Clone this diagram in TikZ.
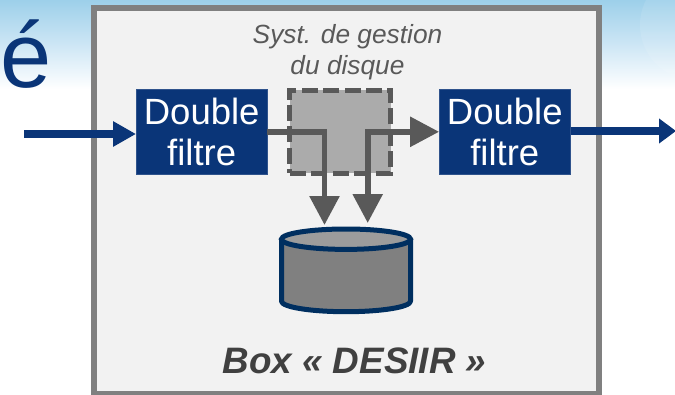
\documentclass[tikz,border=0pt]{standalone}
\usepackage{fontspec}
\setmainfont{Liberation Sans}
\usetikzlibrary{arrows.meta}
\definecolor{navyfill}{HTML}{0A3578}
\definecolor{diskline}{HTML}{002F60}
\definecolor{darkgris}{HTML}{595959}
\begin{document}
\begin{tikzpicture}[x=1pt,y=-1pt,
filterbox/.style={rectangle,draw=navyfill!85!white,fill=navyfill,text=white,align=center,inner sep=0pt,minimum width=131pt,minimum height=85pt,font=\fontsize{36.5}{43.5}\selectfont},
graypath/.style={line width=5.7pt,color=darkgris,-{Triangle[length=29pt,width=29pt]}},
bluepath/.style={line width=8pt,color=navyfill,-{Triangle[length=23pt,width=24pt]}}]
\useasboundingbox (0,0) rectangle (675,394);
\fill[white] (0,0) rectangle (675,394);
\shade[top color={rgb,255:red,157;green,208;blue,234},bottom color=white,middle color={rgb,255:red,205;green,230;blue,245}] (0,0) rectangle (675,89);
\fill[white,opacity=.1] (695,25) circle (55);
\draw[line width=5.5pt,color=black!50,fill=black!5] (93.8,7.9) rectangle (599,393.7);
\node[font=\fontsize{92}{92}\selectfont,text=navyfill] (title) at (26,54) {é};
\node[align=center,text=darkgris,font=\fontsize{26.3}{31}\selectfont\itshape] (gestionlabel) at (347.5,52) {Syst. de gestion\\du disque};
\node[rectangle,draw=darkgris,fill=black!33,line width=5pt,dash pattern=on 16pt off 5.4pt,minimum width=100.7pt,minimum height=83.3pt,inner sep=0pt] (gestion) at (340.3,131.7) {};
\node[filterbox] (filtreL) at (201.7,131.8) {\raisebox{-2pt}{Double}\\filtre};
\node[filterbox] (filtreR) at (504.8,131.8) {\raisebox{-2pt}{Double}\\filtre};
% disque
\coordinate (disque) at (346,239.2);
\filldraw[draw=diskline,fill=black!50,line width=5pt,line join=round] (disque) ++(-64.5,0) -- ++(0,62) arc[start angle=180,end angle=360,x radius=64.5pt,y radius=10.5pt] -- ++(0,-62) -- cycle;
\filldraw[draw=diskline,fill=black!39,line width=5pt] (disque) ellipse[x radius=64.5pt,y radius=10.2pt];
\node[text=black!75,font=\fontsize{36.8}{43}\selectfont\bfseries\itshape] (boxlabel) at (354.5,361) {Box « DESIIR »};
\coordinate (entree) at (24,134);
\coordinate (sortie) at (676,131);
\coordinate (tipA) at (324.5,225);
\coordinate (tipB) at (367.7,223);
\draw[bluepath] (entree) -- (filtreL.west |- entree);
\draw[bluepath,-{Triangle[length=17pt,width=24pt]}] (filtreR.east |- sortie) -- (sortie);
\draw[graypath] (filtreL.east) -| (tipA);
\draw[graypath,{Triangle[length=29pt,width=29pt]}-{Triangle[length=29pt,width=29pt]}] (tipB) |- (filtreR.west);
\end{tikzpicture}
\end{document}
